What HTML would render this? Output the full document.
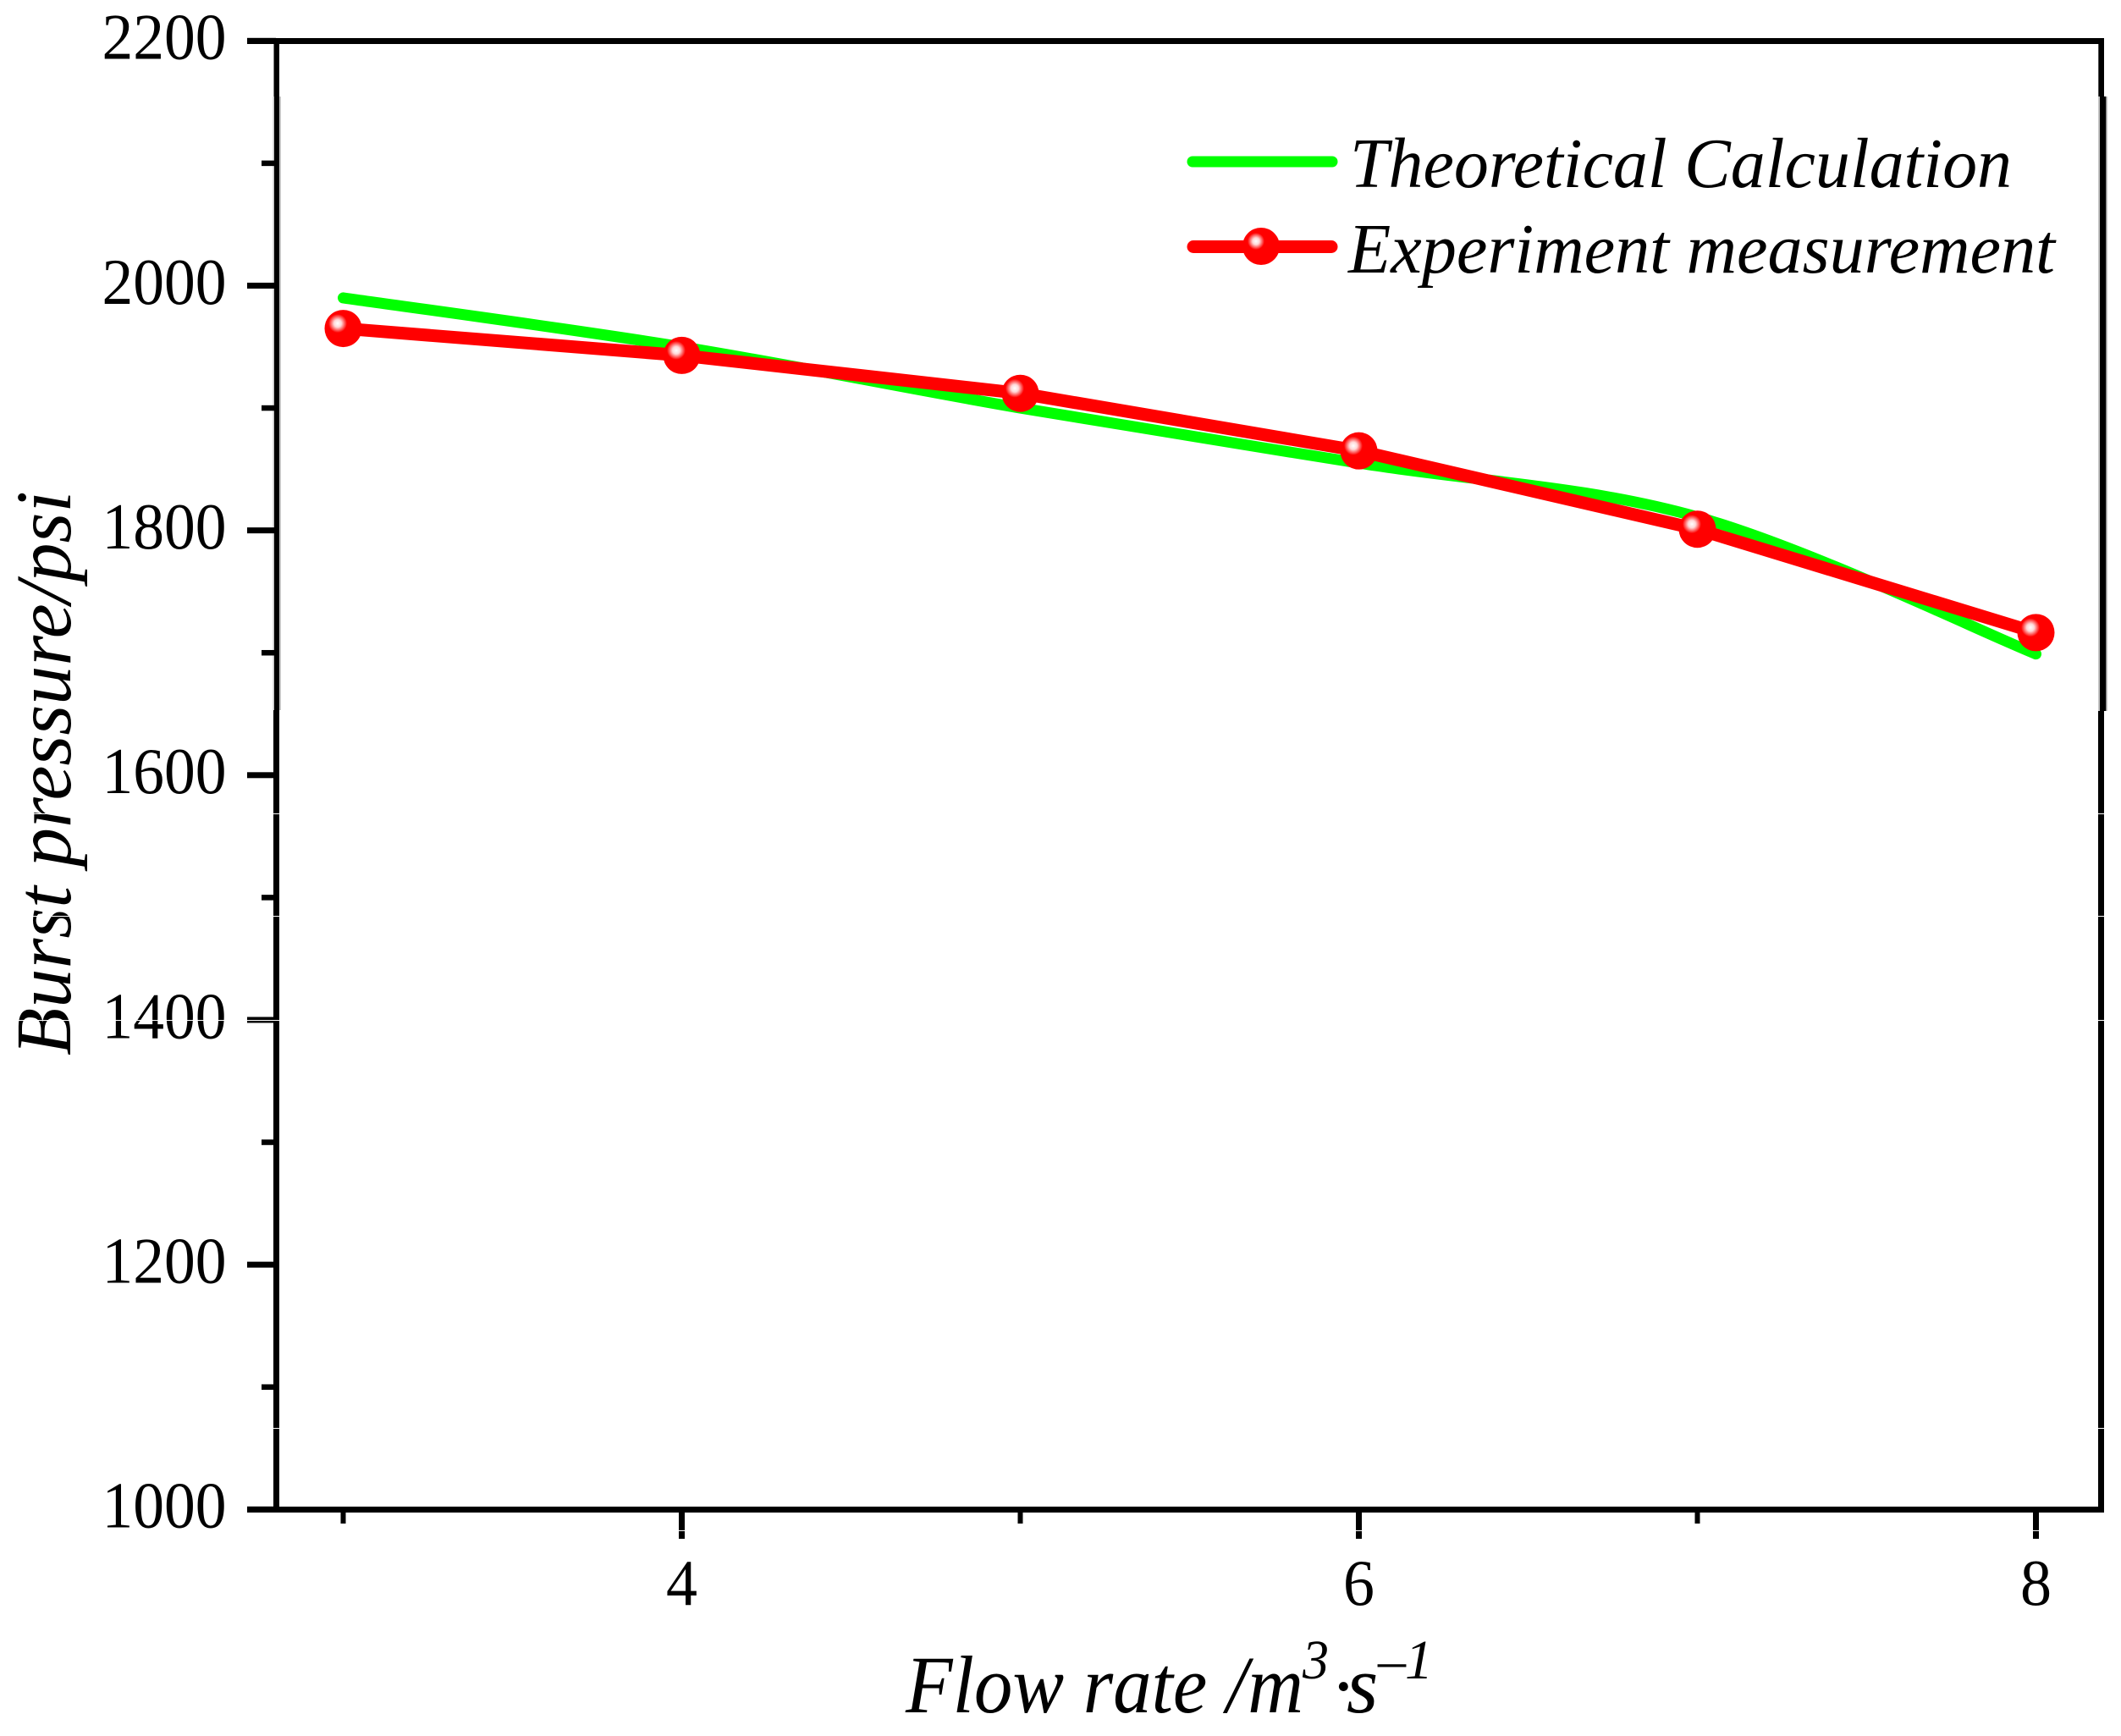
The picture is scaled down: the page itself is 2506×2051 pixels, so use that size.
<!DOCTYPE html>
<html lang="en">
<head>
<meta charset="utf-8">
<title>Burst pressure vs flow rate</title>
<style>
html,body{margin:0;padding:0;background:#fff;width:2506px;height:2051px;overflow:hidden}
svg{display:block;font-family:"Liberation Serif",serif;fill:#000}
.tick-label{font-size:77px}
.title{font-size:93px;font-style:italic}
.legend-text{font-size:84px;font-style:italic}
</style>
</head>
<body>
<svg id="chart" xmlns="http://www.w3.org/2000/svg" width="2506" height="2051" viewBox="0 0 2506 2051">
  <defs>
    <radialGradient id="ball-shine">
      <stop offset="0" stop-color="#fff"/>
      <stop offset="0.4" stop-color="#ffd8d8"/>
      <stop offset="1" stop-color="#f00"/>
    </radialGradient>
  </defs>
  <rect x="0" y="0" width="2506" height="2051" fill="#fff"/>
  <g id="axes">
    <rect x="292" y="45" width="2194" height="7"/>
    <rect x="322.5" y="114" width="9.5" height="725" fill="#c4c4c4"/>
    <rect x="323.5" y="48" width="6.5" height="66"/>
    <rect x="324" y="114" width="6" height="725"/>
    <rect x="323" y="839" width="7" height="945"/>
    <rect x="2479.3" y="48" width="6.7" height="66"/>
    <rect x="2479" y="114" width="11" height="726" fill="#c4c4c4"/>
    <rect x="2481" y="114" width="7.3" height="726"/>
    <rect x="2479" y="840" width="7" height="944"/>
    <rect x="292" y="1780" width="2194" height="7"/>
  </g>
  <g id="y-ticks"></g>
  <g id="x-ticks"></g>
  <g id="series"></g>
  <text class="title" transform="translate(83,1247) rotate(-90)" textLength="667" lengthAdjust="spacingAndGlyphs">Burst pressure/psi</text>
  <g style="font-style:italic">
    <text x="1070" y="2023" font-size="96" textLength="470" lengthAdjust="spacingAndGlyphs">Flow rate /m</text>
    <text x="1539" y="1983" font-size="66" textLength="31" lengthAdjust="spacingAndGlyphs">3</text>
    <text x="1572" y="2023" font-size="92" font-style="normal">·</text>
    <text x="1591" y="2023" font-size="96">s</text>
    <text x="1628" y="1983" font-size="66">–</text>
    <text x="1660" y="1983" font-size="66">1</text>
  </g>
  <g id="legend">
    <line x1="1409" y1="191" x2="1574" y2="191" stroke="#00ff00" stroke-width="13" stroke-linecap="round"/>
    <text class="legend-text" x="1595" y="221" textLength="782" lengthAdjust="spacingAndGlyphs">Theoretical Calculation</text>
    <line x1="1410" y1="291.5" x2="1573" y2="291.5" stroke="#ff0000" stroke-width="15" stroke-linecap="round"/>
    <circle cx="1490" cy="291" r="22" fill="#ff0000"/>
    <circle cx="1484" cy="285" r="10" fill="url(#ball-shine)"/>
    <text class="legend-text" x="1593" y="322" textLength="835" lengthAdjust="spacingAndGlyphs">Experiment measurement</text>
  </g>
  <g fill="#fff">
    <rect x="0" y="961" width="2506" height="1"/>
    <rect x="0" y="1082" width="2506" height="1"/>
    <rect x="0" y="1205" width="2506" height="1"/>
    <rect x="0" y="1687" width="2506" height="1"/>
    <rect x="0" y="1808" width="2506" height="1"/>
  </g>
</svg>
<script>
var flowRates = [3, 4, 5, 6, 7, 8];
var theoreticalValues = [1990, 1950, 1900, 1855, 1811, 1699];
var experimentValues = [1965, 1943, 1912, 1865, 1801, 1716.5];
var yMajorTicks = [1000, 1200, 1400, 1600, 1800, 2000, 2200];
var yMinorTicks = [1100, 1300, 1500, 1700, 1900, 2100];
var xMajorTicks = [4, 6, 8];
var xMinorTicks = [3, 5, 7];

var SVG_NS = 'http://www.w3.org/2000/svg';
function xScale(v) { return 405.5 + (v - 3) * 400; }
function yScale(v) { return 1783.3 - (v - 1000) * 1.44583; }
function create(tag, parent, attrs) {
  var el = document.createElementNS(SVG_NS, tag);
  for (var k in attrs) { el.setAttribute(k, attrs[k]); }
  parent.appendChild(el);
  return el;
}
var yGroup = document.getElementById('y-ticks');
var xGroup = document.getElementById('x-ticks');
var seriesGroup = document.getElementById('series');

yMajorTicks.forEach(function (v) {
  var y = yScale(v);
  var tick = create('rect', yGroup, { x: 292, y: y - 3.5, width: 34, height: 7 });
  
  
  var label = create('text', yGroup, { x: 120.5, y: y + 21.3, textLength: 147, lengthAdjust: 'spacingAndGlyphs', 'class': 'tick-label' });
  
  
  label.textContent = String(v);
});
yMinorTicks.forEach(function (v) {
  var tick = create('rect', yGroup, { x: 309, y: yScale(v) - 3.25, width: 17, height: 6.5 });
  
  
});
xMajorTicks.forEach(function (v) {
  var x = xScale(v);
  var tick = create('rect', xGroup, { x: x - 3.5, y: 1785, width: 7, height: 33 });
  
  
  var label = create('text', xGroup, { x: x - 18.5, y: 1896, textLength: 37, lengthAdjust: 'spacingAndGlyphs', 'class': 'tick-label' });
  
  
  label.textContent = String(v);
});
xMinorTicks.forEach(function (v) {
  var tick = create('rect', xGroup, { x: xScale(v) - 3, y: 1785, width: 6, height: 15 });
  
  
});

/* smooth curve through the theoretical values (Catmull-Rom to Bezier) */
function smoothPath(xs, ys) {
  var pts = xs.map(function (v, i) { return [xScale(v), yScale(ys[i])]; });
  var d = 'M' + pts[0][0] + ' ' + pts[0][1];
  for (var i = 0; i < pts.length - 1; i++) {
    var p0 = pts[Math.max(i - 1, 0)], p1 = pts[i], p2 = pts[i + 1], p3 = pts[Math.min(i + 2, pts.length - 1)];
    d += ' C' + (p1[0] + (p2[0] - p0[0]) / 6) + ' ' + (p1[1] + (p2[1] - p0[1]) / 6) +
         ' ' + (p2[0] - (p3[0] - p1[0]) / 6) + ' ' + (p2[1] - (p3[1] - p1[1]) / 6) +
         ' ' + p2[0] + ' ' + p2[1];
  }
  return d;
}
var theoreticalLine = create('path', seriesGroup, {
  d: smoothPath(flowRates, theoreticalValues), fill: 'none', stroke: '#00ff00',
  'stroke-width': 13, 'stroke-linecap': 'round', 'stroke-linejoin': 'round'
});



var experimentPoints = flowRates.map(function (v, i) { return xScale(v) + ',' + yScale(experimentValues[i]); }).join(' ');
var experimentLine = create('polyline', seriesGroup, {
  points: experimentPoints, fill: 'none', stroke: '#ff0000',
  'stroke-width': 15, 'stroke-linejoin': 'round'
});



flowRates.forEach(function (v, i) {
  var cx = xScale(v), cy = yScale(experimentValues[i]);
  var ball = create('circle', seriesGroup, { cx: cx, cy: cy, r: 22, fill: '#ff0000' });
  
  
  var shine = create('circle', seriesGroup, { cx: cx - 6.5, cy: cy - 6, r: 11, fill: 'url(#ball-shine)' });
  
  
});
</script>
</body>
</html>
